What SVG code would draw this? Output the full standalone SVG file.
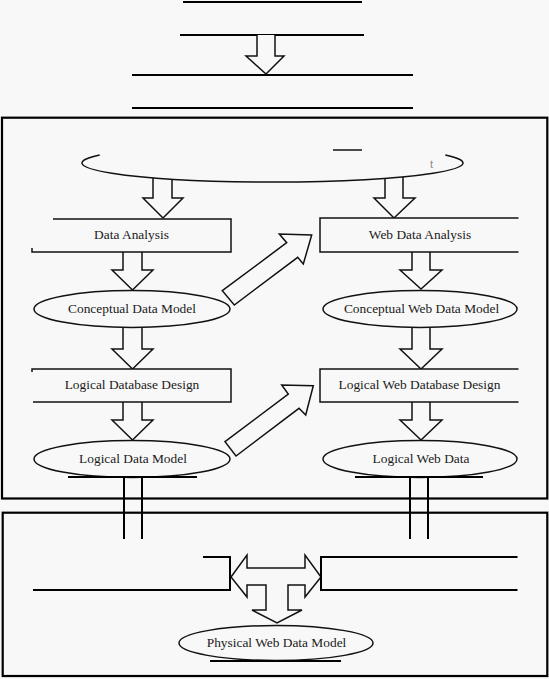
<svg xmlns="http://www.w3.org/2000/svg" width="549" height="679" viewBox="0 0 549 679">
<style>
.bg{fill:#f8f8f8}
.ln{stroke:#000;stroke-width:2;fill:none}
.thin{stroke:#111;stroke-width:1.5;fill:none}
.arr{fill:#f8f8f8;stroke:#111;stroke-width:1.5;stroke-linejoin:miter}
.shape{fill:#f8f8f8;stroke:#111;stroke-width:1.5}
.box{fill:none;stroke:#000;stroke-width:2.2}
.t{font-family:"Liberation Serif","Times New Roman",serif;font-size:13.4px;fill:#1a1a1a;text-anchor:middle}
</style>
<defs>
<clipPath id="rc"><rect x="0" y="0" width="518.5" height="679"/></clipPath>
</defs>
<rect class="bg" x="0" y="0" width="549" height="679"/>

<g id="top-lines">
<line class="ln" x1="183" y1="2" x2="362" y2="2"/>
<line class="ln" x1="180" y1="35" x2="364" y2="35"/>
<line class="ln" x1="132" y1="75" x2="413" y2="75"/>
<line class="ln" x1="132" y1="108" x2="413" y2="108"/>
</g>

<g id="frames">
<rect class="box" x="2" y="117.7" width="545.3" height="380.8"/>
<rect class="box" x="2.7" y="512.7" width="544.6" height="163.3"/>
</g>

<g id="connectors">
<polyline class="arr" points="257,35 257,56 246,56 266,74 284,56 275,56 275,35"/>
<polyline class="arr" points="153,177 153,198 143,198 163,218 183,198 172,198 172,177"/>
<polyline class="arr" points="385,177 385,198 374,198 394,218 415,198 403,198 403,177"/>
<polyline class="arr" points="123,251 123,270 112,270 132.5,290 153,270 142,270 142,251"/>
<polyline class="arr" points="123,326 123,349 112,349 132.5,369 153,349 142,349 142,326"/>
<polyline class="arr" points="123,401 123,420 112,420 132.5,440 153,420 142,420 142,401"/>
<polyline class="arr" points="412,251 412,270 400,270 421,289 442,270 430,270 430,251"/>
<polyline class="arr" points="412,326 412,349 400,349 421,369 442,349 430,349 430,326"/>
<polyline class="arr" points="412,401 412,420 400,420 421,440 442,420 430,420 430,401"/>
<polygon class="arr" points="222.3,290.7 286.7,242.7 279.3,234 311.7,235 303.3,264 297.7,257.3 234.3,305"/>
<polygon class="arr" points="225,441.7 288.3,394 281.7,385 313.3,385.7 305.7,415 299,408.3 236,456"/>
<line class="ln" x1="124" y1="477" x2="124" y2="539"/>
<line class="ln" x1="142" y1="477" x2="142" y2="539"/>
<line class="ln" x1="410" y1="477" x2="410" y2="539"/>
<line class="ln" x1="428" y1="477" x2="428" y2="539"/>
<polygon class="arr" points="231,577 247,555 247,568 305,568 305,555 321,577 305,597 305,585 288,585 288,610 302,610 277,623 252,610 266,610 266,585 247,585 247,597"/>
</g>

<g id="source-ellipse">
<path class="shape" d="M99.7,155 A190.5,19 0 1 0 445.3,155"/>
<line class="thin" x1="333" y1="150" x2="362" y2="150"/>
<text x="430" y="168" style="font-family:'Liberation Sans',Arial,sans-serif;font-size:11px;fill:#888">t</text>
</g>

<g id="data-analysis">
<path class="shape" d="M53,219 L231,219 L231,252 L32,252 L32,248"/>
<text class="t" x="131.5" y="239">Data Analysis</text>
</g>

<g id="web-data-analysis" clip-path="url(#rc)">
<path class="shape" d="M520,218 L320,218 L320,252 L520,252"/>
<text class="t" x="420" y="239">Web Data Analysis</text>
</g>

<g id="conceptual-data-model">
<ellipse class="shape" cx="132" cy="309" rx="98" ry="18.5"/>
<text class="t" x="132" y="313">Conceptual Data Model</text>
</g>

<g id="conceptual-web-data-model" clip-path="url(#rc)">
<ellipse class="shape" cx="420" cy="309" rx="97" ry="18.5"/>
<text class="t" x="421.5" y="313">Conceptual Web Data Model</text>
</g>

<g id="logical-database-design">
<path class="shape" d="M32,372 L32,369 L231,369 L231,402 L33,402"/>
<text class="t" x="132" y="389">Logical Database Design</text>
</g>

<g id="logical-web-database-design" clip-path="url(#rc)">
<path class="shape" d="M520,369 L320,369 L320,402 L520,402"/>
<text class="t" x="419.5" y="389">Logical Web Database Design</text>
</g>

<g id="logical-data-model">
<ellipse class="shape" cx="132" cy="459" rx="98" ry="18.5"/>
<line class="ln" x1="68" y1="477" x2="197" y2="477"/>
<text class="t" x="133" y="463">Logical Data Model</text>
</g>

<g id="logical-web-data" clip-path="url(#rc)">
<ellipse class="shape" cx="420" cy="459" rx="97" ry="18.5"/>
<line class="ln" x1="355" y1="477" x2="483" y2="477"/>
<text class="t" x="421" y="463">Logical Web Data</text>
</g>

<g id="left-bracket">
<polyline class="ln" points="203,557 230,557 230,590 33,590"/>
</g>

<g id="right-bracket">
<polyline class="ln" points="517.5,557 321,557 321,590 517.5,590"/>
</g>

<g id="physical-web-data-model">
<ellipse class="shape" cx="276" cy="643" rx="97" ry="17.5"/>
<line class="ln" x1="210" y1="661" x2="341" y2="661"/>
<text class="t" x="276.5" y="647">Physical Web Data Model</text>
</g>
</svg>
